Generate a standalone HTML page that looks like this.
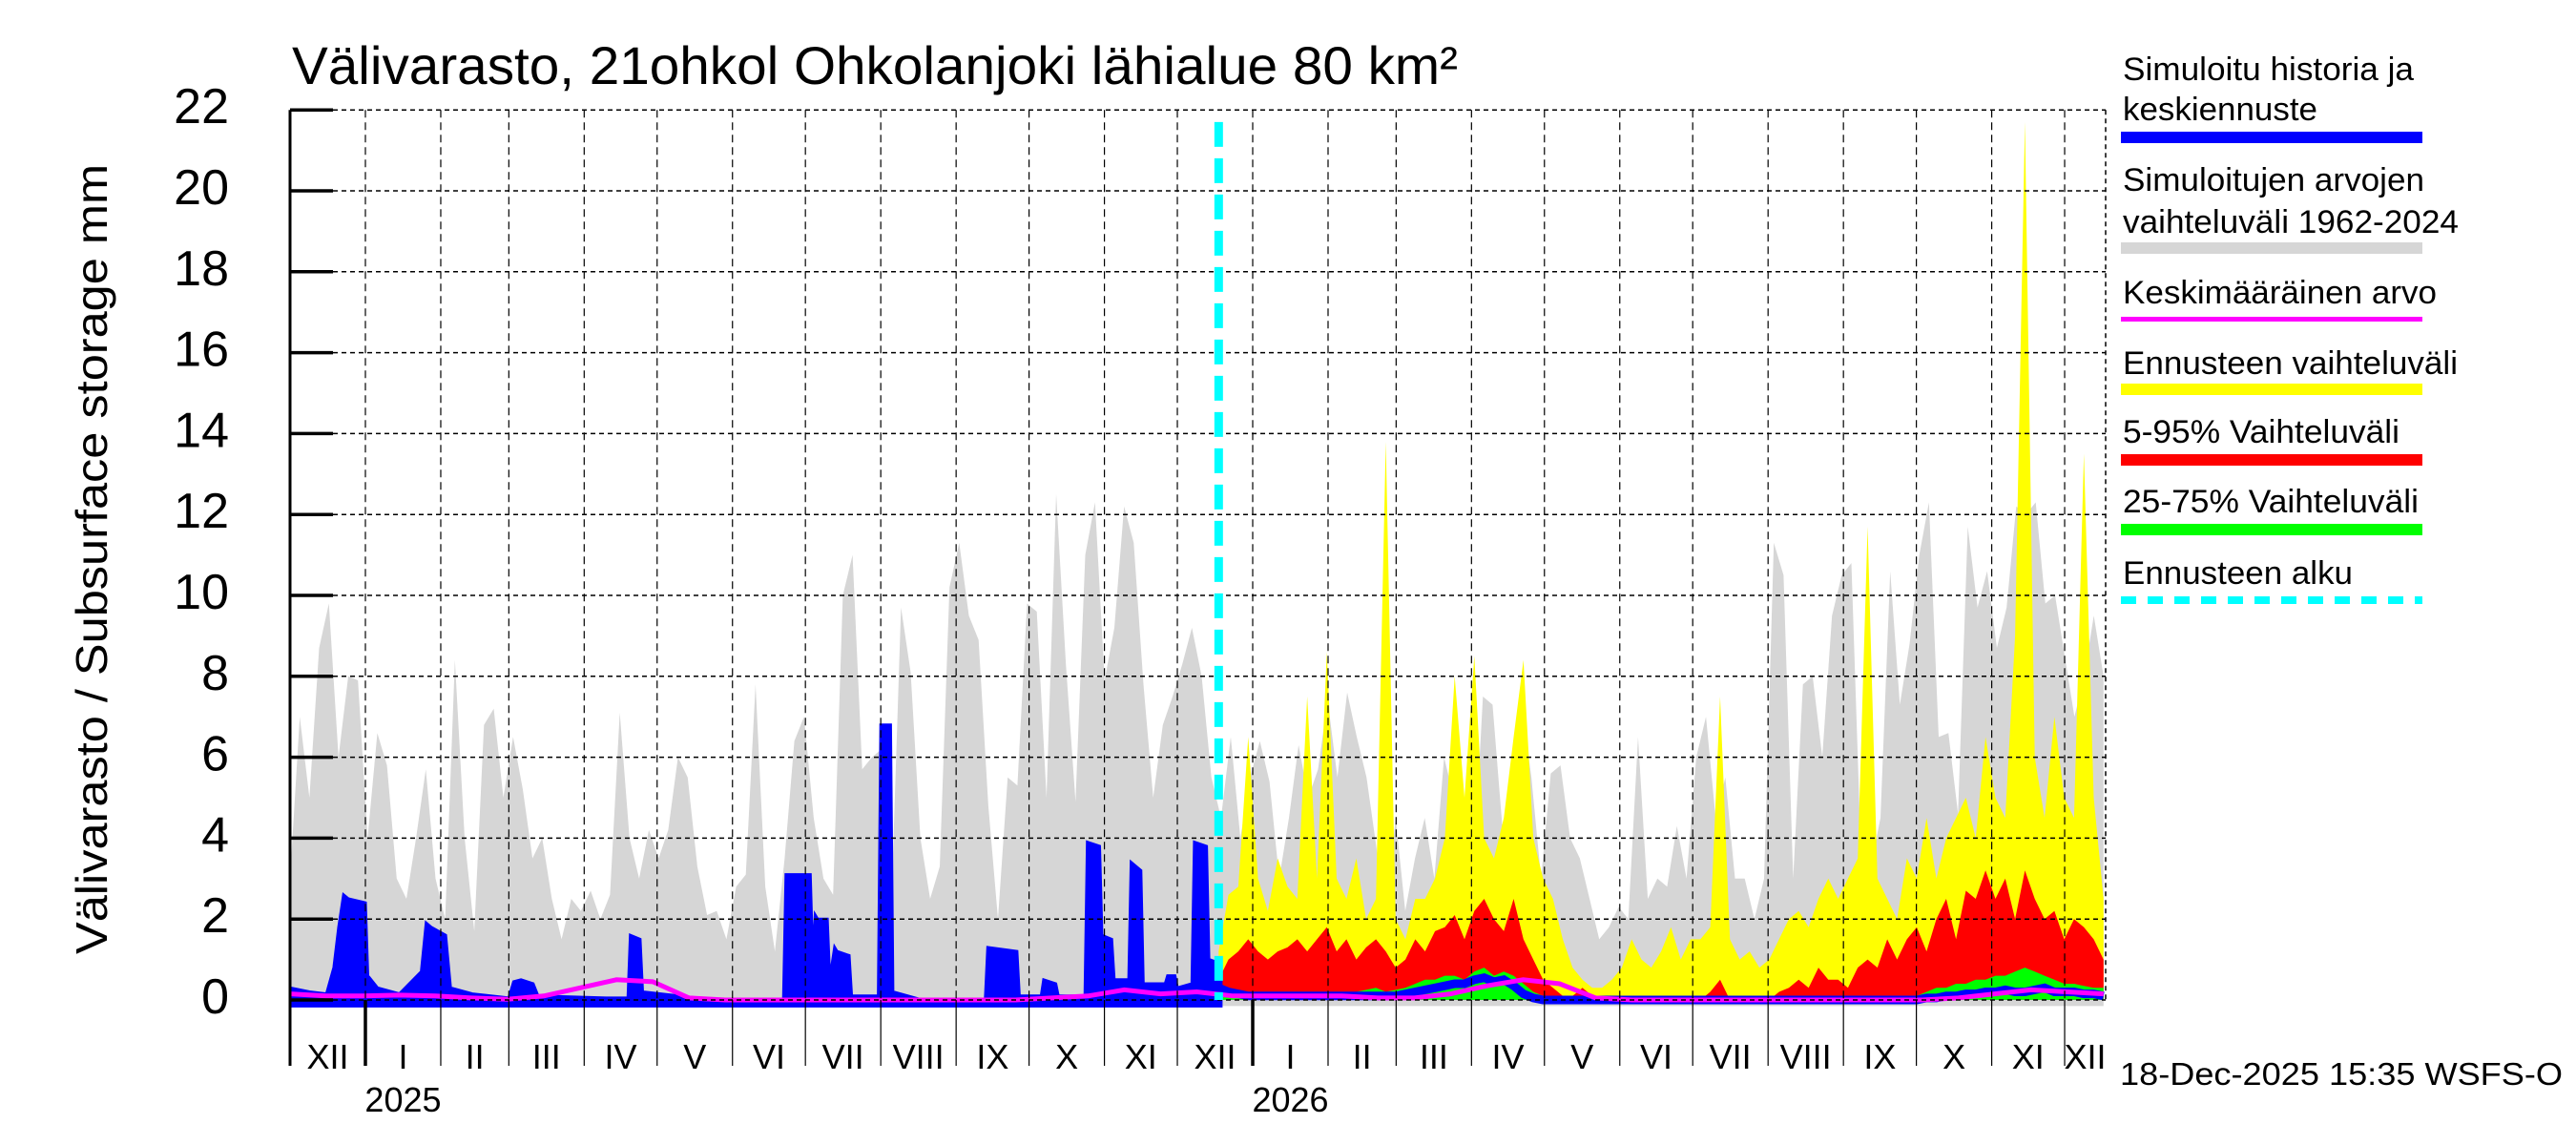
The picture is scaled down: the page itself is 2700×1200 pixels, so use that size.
<!DOCTYPE html>
<html><head><meta charset="utf-8"><style>
html,body{margin:0;padding:0;background:#fff;}
svg{display:block;font-family:"Liberation Sans",Arial,sans-serif;}
</style></head><body>
<svg id="chart" width="2700" height="1200" viewBox="0 0 2700 1200" xmlns="http://www.w3.org/2000/svg">
<rect x="0" y="0" width="2700" height="1200" fill="#fff"/>
<text x="306" y="88" font-size="56" textLength="1222" lengthAdjust="spacingAndGlyphs">Välivarasto, 21ohkol Ohkolanjoki lähialue 80 km²</text>
<text transform="translate(112,586) rotate(-90)" text-anchor="middle" font-size="46" textLength="828" lengthAdjust="spacingAndGlyphs">Välivarasto / Subsurface storage  mm</text>
<g id="plot"></g>
<g id="legend">
<text x="2225" y="84" font-size="34" textLength="305" lengthAdjust="spacingAndGlyphs">Simuloitu historia ja</text>
<text x="2225" y="126" font-size="34" textLength="204" lengthAdjust="spacingAndGlyphs">keskiennuste</text>
<rect x="2223" y="138" width="316" height="12" fill="#0000ff"/>
<text x="2225" y="200" font-size="34" textLength="316" lengthAdjust="spacingAndGlyphs">Simuloitujen arvojen</text>
<text x="2225" y="244" font-size="34" textLength="352" lengthAdjust="spacingAndGlyphs">vaihteluväli 1962-2024</text>
<rect x="2223" y="254" width="316" height="12" fill="#d6d6d6"/>
<text x="2225" y="318" font-size="34" textLength="329" lengthAdjust="spacingAndGlyphs">Keskimääräinen arvo</text>
<rect x="2223" y="332" width="316" height="5" fill="#ff00ff"/>
<text x="2225" y="392" font-size="34" textLength="351" lengthAdjust="spacingAndGlyphs">Ennusteen vaihteluväli</text>
<rect x="2223" y="402" width="316" height="12" fill="#ffff00"/>
<text x="2225" y="464" font-size="34" textLength="290" lengthAdjust="spacingAndGlyphs">5-95% Vaihteluväli</text>
<rect x="2223" y="476" width="316" height="12" fill="#ff0000"/>
<text x="2225" y="537" font-size="34" textLength="310" lengthAdjust="spacingAndGlyphs">25-75% Vaihteluväli</text>
<rect x="2223" y="549" width="316" height="12" fill="#00ff00"/>
<text x="2225" y="612" font-size="34" textLength="241" lengthAdjust="spacingAndGlyphs">Ennusteen alku</text>
<line x1="2223" y1="629" x2="2539" y2="629" stroke="#00ffff" stroke-width="8" stroke-dasharray="16,12"/>
</g>
<text x="2222" y="1137" font-size="33" textLength="464" lengthAdjust="spacingAndGlyphs">18-Dec-2025 15:35 WSFS-O</text>
</svg>
<script>
// ---- data ----
const yTicks = [0,2,4,6,8,10,12,14,16,18,20,22];
const monthLabels = ["XII","I","II","III","IV","V","VI","VII","VIII","IX","X","XI","XII","I","II","III","IV","V","VI","VII","VIII","IX","X","XI","XII"];
const monthLengths = [31,31,28,31,30,31,30,31,31,30,31,30,31,31,28,31,30,31,30,31,31,30,31,30,31];
const yearLabels = ["2025","2026"];
const forecastStartDay = 382;
const totalDays = 746;
// grey historical range max (≈4-day steps from 1 Dec 2024)
const rangeMax = [3,7,5,8.7,9.8,6,8,7.9, 4,6.6,5.8,3,2.5,4,5.7,3, 2,8.4,4,1.7,6.8,7.2,5, 6.5,5.2,3.5,4,2.5,1.5,2.5,2.2, 2.7,2,2.6,7.1,4,3,4.2, 3.5,4.2,6,5.5,3.3,2.1,2.2,1.5, 2.8,3.1,7.8,2.8,1.2,3.5,6.4, 7,4.5,3,2.6,10,11,5.7,6, 6.2,2.3,9.7,8.1,4,2.5,3.3,10.2, 11.3,9.5,8.9,4.8,2,5.5,5.3,9.8, 9.6,5,12.5,8.3,4.9,11,12.3,7.9, 9.2,12.2,11.3,7.8,5,6.8,7.5, 8.3,9.2,8,5.5,4.5,6.5,4,5.5, 6.4,5.4,3,4.5,6.3,5,5.7,7.4, 5.5,7.6,6.5,5.5,3.8,2,4.5, 2.2,3.5,4.5,3,6,5,2.5,3, 7.5,7.3,4.3,5.2,7.3,5.5,3, 5.6,5.8,4,3.5,2.5,1.5,1.8,2.3, 2,6.5,2.5,3,2.8,4.3,3, 6,7,4.5,5.5,3,3,2,3, 11.3,10.5,3,7.8,8,6,9.5,10.5, 10.8,3.5,3.3,4.5,10.6,7.3,8.8,11, 12.3,6.5,6.6,4.6,11.7,9.7,10.6,8.7, 9.7,12.2,12,12.3,9.8,10,8.5, 7,8,9.5,8];
const rangeMin = -0.15;
// simulated history (day, value)
const historyDays = [0,8,15,18,20,22,24,31,32,36,45,54,56,58,64,66,75,90,92,95,100,102,130,139,140,144,145,160,175,203,204,214,215,216,217,221,222,224,225,230,231,242,243,247,248,260,286,287,299,300,309,310,315,316,327,328,333,334,338,339,345,346,350,351,360,361,364,365,371,372,377,378,383];
const historyVals = [0.3,0.2,0.15,0.8,1.8,2.6,2.5,2.4,0.6,0.3,0.15,0.7,1.9,1.8,1.6,0.3,0.15,0.05,0.45,0.5,0.4,0.1,0.05,0.05,1.6,1.5,0.2,0.1,0,0,3.1,3.1,1.0,2.1,2.0,2.0,0.5,1.3,1.2,1.1,0.1,0.1,6.8,6.8,0.2,0,0,1.3,1.2,0.1,0.1,0.5,0.4,0.1,0.1,3.9,3.8,1.6,1.5,0.5,0.5,3.4,3.2,0.4,0.4,0.6,0.6,0.3,0.4,3.9,3.8,1.0,0.9];
// forecast bands (≈4-day steps from 18 Dec 2025)
const forecastMax = [1.2,2.6,2.8, 6.5,3,2.2,3.5,2.8,2.5,7.5,3, 8.6,3,2.5,3.5,2,2.5,13.8, 2,1.5,2.5,2.5,3,4,8,5, 8.5,4,3.5,4.5,6.5,8.4,4, 3,2.5,1.5,0.8,0.5,0.3,0.3,0.5, 0.8,1.5,1,0.8,1.2,1.8,1, 1.5,1.5,1.8,7.5,1.5,1,1.2,0.8, 1,1.5,2,2.2,1.8,2.5,3,2.5, 3,3.5,11.7,3,2.5,2,3.5,3, 4.5,3,4,4.5,5,4,6.5,5, 4.5,9,21.7,6,4.5,7,5, 4.5,13.5,5,2.5];
const forecastP95 = [0.5,1.0,1.2, 1.5,1.2,1,1.2,1.3,1.5,1.2,1.5, 1.8,1.2,1.5,1,1.3,1.5,1.2, 0.8,1,1.5,1.2,1.7,1.8,2.1,1.5, 2.2,2.5,2,1.7,2.5,1.5,1, 0.5,0.3,0.1,0.1,0.3,0.1,0,0, 0,0.1,0,0,0.1,0,0, 0,0,0.2,0.5,0,0.1,0,0.1, 0,0.2,0.3,0.5,0.3,0.8,0.5,0.5, 0.3,0.8,1,0.8,1.5,1,1.5,1.8, 1.2,2,2.5,1.5,2.7,2.5,3.2,2.5, 3,2,3.2,2.5,2,2.2,1.5, 2,1.8,1.5,1];
const forecastP75 = [0.1,0.1,0.15, 0.1,0.2,0.15,0.2,0.15,0.2,0.2,0.15, 0.2,0.15,0.2,0.2,0.25,0.3,0.2, 0.25,0.3,0.4,0.5,0.5,0.6,0.6,0.5, 0.7,0.8,0.6,0.7,0.6,0.4,0.2, 0.1,0,0,0,0,0,0,0, 0,0,0,0,0,0,0, 0,0,0,0,0,0,0,0, 0,0,0,0,0,0,0,0, 0,0,0,0,0,0,0.1,0.1, 0.2,0.3,0.3,0.4,0.4,0.5,0.5,0.6, 0.6,0.7,0.8,0.7,0.6,0.5,0.4, 0.4,0.35,0.3,0.3];
const forecastMedian = [0.3,0.2,0.15, 0.1,0.1,0.1,0.1,0.1,0.1,0.1,0.1, 0.1,0.1,0.1,0.1,0.1,0.1,0.1, 0.1,0.15,0.2,0.25,0.3,0.35,0.4,0.4, 0.5,0.55,0.45,0.5,0.35,0.15,0.05, 0,0,0,0,0,0,0,0, 0,0,0,0,0,0,0, 0,0,0,0,0,0,0,0, 0,0,0,0,0,0,0,0, 0,0,0,0,0,0,0,0, 0.05,0.05,0.1,0.1,0.15,0.15,0.2,0.2, 0.25,0.2,0.2,0.25,0.3,0.2,0.2, 0.2,0.15,0.15,0.1];
// long-term mean (≈15-day steps)
const meanVals = [0.15,0.1, 0.1,0.12, 0.1,0.05, 0.02,0.1, 0.3,0.5,0.45, 0.05,0, 0,0, 0,0, 0,0, 0,0, 0.05,0.1, 0.25,0.15, 0.2,0.1, 0.1,0.1, 0.1,0.05, 0.05,0.15, 0.35,0.5,0.4, 0.05,0, 0,0, 0,0, 0,0, 0,0, 0.05,0.15, 0.25,0.2, 0.15];

// ---- scales ----
const X0 = 304, PXD = 2.548, Y0 = 1048, PXU = 42.4, XR = 2207;
function xs(d){ return X0 + d*PXD; }
function ys(v){ return Y0 - v*PXU; }
const NS = "http://www.w3.org/2000/svg";
const plot = document.getElementById('plot');
function mk(tag, attrs, parent){ const e=document.createElementNS(NS,tag); for(const k in attrs) e.setAttribute(k,attrs[k]); (parent||plot).appendChild(e); return e; }
function seriesDays(n, start, end){ const out=[]; for(let i=0;i<n;i++) out.push(start + i*(end-start)/(n-1)); return out; }
function areaPath(days, vals, base){
  let d = "M"+xs(days[0]).toFixed(1)+","+ys(base).toFixed(1);
  for(let i=0;i<days.length;i++) d += "L"+xs(days[i]).toFixed(1)+","+ys(Math.min(vals[i],22)).toFixed(1);
  d += "L"+xs(days[days.length-1]).toFixed(1)+","+ys(base).toFixed(1)+"Z";
  return d;
}
function linePath(days, vals){
  let d=""; for(let i=0;i<days.length;i++) d += (i?"L":"M")+xs(days[i]).toFixed(1)+","+ys(vals[i]).toFixed(1);
  return d;
}

// grey range
const gDays = seriesDays(rangeMax.length, 0, totalDays);
const grey = mk('path',{d:areaPath(gDays, rangeMax, rangeMin), fill:'#d6d6d6'});



// forecast bands
const fDays = seriesDays(forecastMax.length, forecastStartDay, totalDays);
const yel = mk('path',{d:areaPath(fDays, forecastMax, 0), fill:'#ffff00'});


const red = mk('path',{d:areaPath(fDays, forecastP95, 0), fill:'#ff0000'});


const grn = mk('path',{d:areaPath(fDays, forecastP75, 0), fill:'#00ff00'});



// history
const hist = mk('path',{d:areaPath(historyDays, historyVals, -0.15), fill:'#0000ff', stroke:'#0000ff', 'stroke-width':3});


const med = mk('path',{d:linePath(fDays, forecastMedian), fill:'none', stroke:'#0000ff', 'stroke-width':9});



// mean
const mDays = seriesDays(meanVals.length, 0, totalDays);
const mean = mk('path',{d:linePath(mDays, meanVals), fill:'none', stroke:'#ff00ff', 'stroke-width':5});



// grid
const yTop = ys(22);
yTicks.forEach(function(t){
  const g = mk('line',{x1:X0, x2:XR, y1:ys(t), y2:ys(t), stroke:'#000', 'stroke-width':1.5, 'stroke-dasharray':'5,4'});
  
  
  const tk = mk('line',{x1:X0, x2:X0+45, y1:ys(t), y2:ys(t), stroke:'#000', 'stroke-width':3.5});
  
  
  const lb = mk('text',{x:240, y:ys(t)+14, 'text-anchor':'end', 'font-size':52});
  lb.textContent = String(t);
  
  
});
let day = 0, yearIdx = 0;
monthLabels.forEach(function(m, i){
  const xa = xs(day), xb = xs(day + monthLengths[i]);
  if(i>0){
    const gl = mk('line',{x1:xa, x2:xa, y1:yTop, y2:Y0, stroke:'#000', 'stroke-width':1.2, 'stroke-dasharray':'8,5'});
    
    
  }
  const isYear = (m === "I");
  const tk = mk('line',{x1:xa, x2:xa, y1:Y0, y2:1117, stroke:'#000', 'stroke-width': isYear ? 3.5 : 1.2});
  
  
  if (xa < XR - 5) {
    const cx = Math.min((xa + Math.min(xb, XR))/2, XR);
    const lb = mk('text',{x:cx, y:1120, 'text-anchor':'middle', 'font-size':36});
    lb.textContent = m;
    
    
  }
  if(isYear){
    const yl = mk('text',{x:(xa+xb)/2, y:1165, 'text-anchor':'middle', 'font-size':36});
    yl.textContent = yearLabels[yearIdx++];
    
    
  }
  day += monthLengths[i];
});
const rf = mk('line',{x1:XR, x2:XR, y1:yTop, y2:Y0, stroke:'#000', 'stroke-width':1.5, 'stroke-dasharray':'5,4'});


const ax = mk('line',{x1:X0, x2:X0, y1:yTop, y2:1117, stroke:'#000', 'stroke-width':3});



// forecast start
const fs = mk('line',{x1:xs(forecastStartDay), x2:xs(forecastStartDay), y1:ys(21.7), y2:Y0, stroke:'#00ffff', 'stroke-width':9, 'stroke-dasharray':'26,12'});


</script>
</body></html>
